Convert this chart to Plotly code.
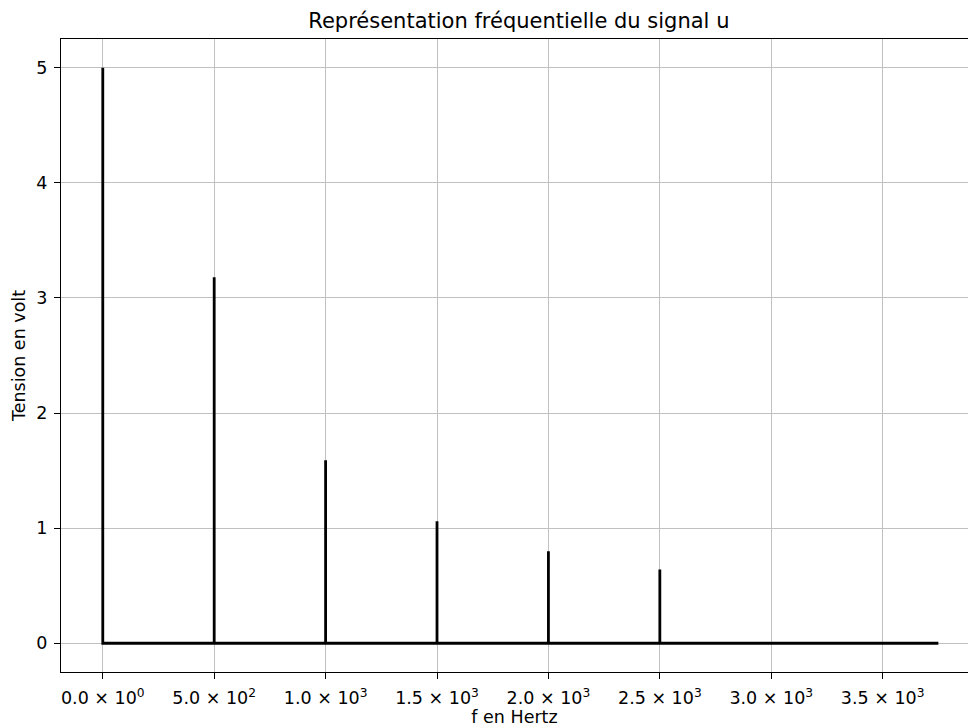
import plotly.graph_objects as go

# Data
peak_freqs = [0, 500, 1000, 1500, 2000, 2500]          # Hz
peak_amps = [5.0, 3.18, 1.59, 1.06, 0.80, 0.64]       # volts
f_max = 3750                                          # end of spectrum (Hz)

x_ticks = [0, 500, 1000, 1500, 2000, 2500, 3000, 3500]
x_tick_text = ["0.0 × 10<sup>0</sup>", "5.0 × 10<sup>2</sup>", "1.0 × 10<sup>3</sup>",
               "1.5 × 10<sup>3</sup>", "2.0 × 10<sup>3</sup>", "2.5 × 10<sup>3</sup>",
               "3.0 × 10<sup>3</sup>", "3.5 × 10<sup>3</sup>"]
y_ticks = [0, 1, 2, 3, 4, 5]

xs, ys = [], []
for f, a in zip(peak_freqs, peak_amps):
    xs += [f, f, f]
    ys += [0, a, 0]
xs.append(f_max)
ys.append(0)

FONT = "DejaVu Sans"

fig = go.Figure()
fig.add_trace(go.Scatter(x=xs, y=ys, mode="lines",
                         line=dict(color="black", width=2.8),
                         showlegend=False, hoverinfo="skip"))

fig.update_layout(
    width=968, height=727,
    margin=dict(l=61, r=0, t=39, b=55),
    paper_bgcolor="white", plot_bgcolor="white",
    font=dict(family=FONT, size=17.5, color="black"),
    title=dict(text="Représentation fréquentielle du signal u",
               x=0.5048, xref="paper", xanchor="center",
               y=1 - 21 / 727, yref="container", yanchor="middle",
               font=dict(family=FONT, size=21, color="black")),
)

fig.update_xaxes(
    range=[-187.5, 3883], tickmode="array", tickvals=x_ticks, ticktext=x_tick_text,
    showgrid=True, gridcolor="#c0c0c0", gridwidth=1.3, zeroline=False,
    showline=True, linecolor="black", linewidth=1.3, mirror=True,
    ticks="outside", ticklen=6, tickwidth=1.3, tickcolor="black",
    ticklabelstandoff=4,
    tickfont=dict(family=FONT, size=17.5, color="black"),
    title=dict(text="f en Hertz", standoff=6, font=dict(family=FONT, size=17.5, color="black")),
)
fig.update_yaxes(
    range=[-0.25, 5.25], tickmode="array", tickvals=y_ticks,
    showgrid=True, gridcolor="#c0c0c0", gridwidth=1.3, zeroline=False,
    showline=True, linecolor="black", linewidth=1.3, mirror=False,
    ticks="outside", ticklen=6, tickwidth=1.3, tickcolor="black",
    ticklabelstandoff=3,
    tickfont=dict(family=FONT, size=17.5, color="black"),
    title=dict(text="Tension en volt", standoff=6, font=dict(family=FONT, size=17.5, color="black")),
)

fig.write_html("out.html")
